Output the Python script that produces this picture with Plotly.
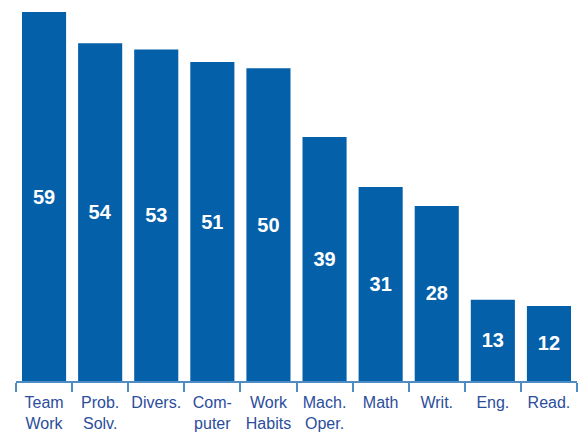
import plotly.graph_objects as go

categories = ["Team<br>Work", "Prob.<br>Solv.", "Divers.", "Com-<br>puter", "Work<br>Habits",
              "Mach.<br>Oper.", "Math", "Writ.", "Eng.", "Read."]
values = [59, 54, 53, 51, 50, 39, 31, 28, 13, 12]

BAR = "#0560aa"
LABEL = "#2b4d9c"
AXIS = "#4f8cc4"
FONT = "Liberation Sans Narrow, Arial Narrow, Liberation Sans, Arial, sans-serif"

fig = go.Figure(go.Bar(
    x=categories, y=values,
    marker=dict(color=BAR, line=dict(width=0)),
    text=[str(v) for v in values],
    textposition="inside",
    insidetextanchor="middle",
    textangle=0,
    textfont=dict(color="white", size=20, family=FONT, weight="bold"),
    cliponaxis=False,
))

fig.update_layout(
    width=585, height=437,
    margin=dict(l=16, r=8, t=12, b=56, autoexpand=False),
    paper_bgcolor="white", plot_bgcolor="white",
    bargap=0.214,
    showlegend=False,
    uniformtext=dict(minsize=8, mode="show"),
    font=dict(family=FONT),
)
fig.update_xaxes(
    type="category",
    range=[-0.5, 9.5],
    automargin=False,
    showline=True, linecolor=AXIS, linewidth=1.5,
    ticks="outside", tickson="boundaries", ticklen=9, tickcolor=AXIS, tickwidth=1.5,
    tickangle=0,
    ticklabelstandoff=6,
    tickfont=dict(color=LABEL, size=16, family=FONT),
    showgrid=False,
)
fig.update_yaxes(range=[0, 59], visible=False, showgrid=False, zeroline=False, automargin=False)

fig.write_html("out.html")
